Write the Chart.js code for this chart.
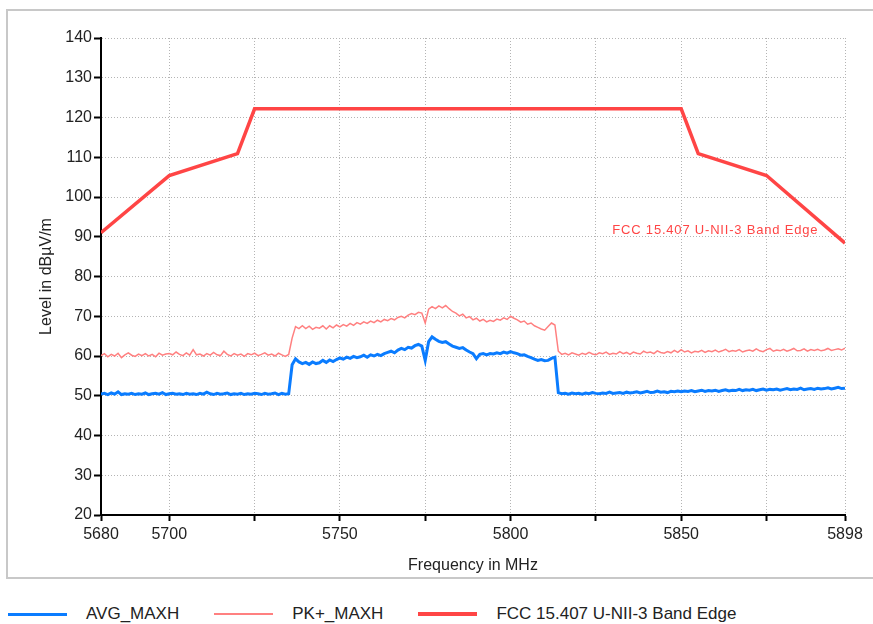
<!DOCTYPE html>
<html>
<head>
<meta charset="utf-8">
<script src="https://cdn.jsdelivr.net/npm/chart.js@4.4.1/dist/chart.umd.min.js"></script>
<style>
  body { margin: 0; width: 873px; height: 624px; overflow: hidden; background: #fff; font-family: "Liberation Sans", Arial, sans-serif; }
  #frame { position: absolute; left: 6px; top: 9px; width: 900px; height: 566px; border: 2px solid #c8c8c8; }
  #chart { position: absolute; left: 0; top: 0; }
  #legend { position: absolute; left: 8px; top: 604px; height: 20px; display: flex; align-items: center; font-size: 17px; color: #222; white-space: nowrap; }
  .item { display: flex; align-items: center; margin-right: 35px; }
  .swatch { width: 59px; margin-right: 19px; }
</style>
</head>
<body>
<div id="frame"></div>
<canvas id="chart" width="873" height="580"></canvas>
<div id="legend"></div>
<script>
// sweep: 5680 .. 5898 MHz, 1 MHz per sample
const startFreq = 5680;
const stopFreq = 5898;

const avgMaxh = [
  50.4, 50.6, 50.3, 50.7, 50.4, 51.0, 50.3, 50.5, 50.4, 50.6,
  50.3, 50.5, 50.4, 50.7, 50.3, 50.5, 50.6, 50.4, 50.8, 50.3,
  50.5, 50.6, 50.4, 50.5, 50.3, 50.6, 50.4, 50.5, 50.3, 50.6,
  50.4, 50.9, 50.5, 50.3, 50.6, 50.4, 50.5, 50.7, 50.3, 50.5,
  50.4, 50.6, 50.3, 50.5, 50.4, 50.6, 50.5, 50.3, 50.6, 50.4,
  50.5, 50.7, 50.3, 50.6, 50.4, 50.5,
  57.8, 59.3, 58.5, 58.1,
  58.4, 57.9, 58.5, 58.1, 58.3, 58.9, 58.4, 59.0, 58.6, 59.1,
  59.5, 59.2, 59.7, 59.4, 59.9, 59.6, 59.8, 60.2, 59.7, 60.3,
  60.0, 60.4, 60.1, 60.6, 60.9, 61.2, 60.8, 61.5, 61.9, 61.6,
  62.2, 62.0, 62.6, 62.9, 62.5, 58.9, 63.6, 64.8, 64.2, 63.7,
  63.4, 63.6, 63.0, 62.5, 62.2, 61.9, 62.1, 61.5, 61.0, 60.6,
  59.3, 60.4, 60.6, 60.3, 60.6, 60.5, 60.8, 60.6, 61.0, 60.7,
  61.1, 60.8, 60.6, 60.2, 60.3, 59.9, 59.6, 59.2, 58.9, 59.1,
  58.8, 58.9, 59.4, 59.7, 50.8, 50.5, 50.6, 50.4, 50.7, 50.5,
  50.6, 50.4, 50.7, 50.5, 50.8, 50.6, 50.5, 50.7, 50.6, 50.9,
  50.6, 50.7, 50.8, 50.6, 50.9, 50.7, 50.8, 51.0, 50.7, 50.9,
  51.1, 50.8, 50.9, 51.2, 50.9, 51.0, 50.8, 51.1, 51.0, 51.2,
  51.0, 51.2, 51.1, 51.3, 51.0, 51.2, 51.4, 51.1, 51.3, 51.2,
  51.4, 51.1, 51.3, 51.5, 51.2, 51.4, 51.3, 51.6, 51.3, 51.5,
  51.4, 51.6, 51.3, 51.5, 51.7, 51.4, 51.6, 51.5, 51.7, 51.4,
  51.6, 51.8, 51.5, 51.7, 51.6, 51.9, 51.5, 51.7, 51.8, 51.6,
  51.9, 51.7, 51.8, 52.0, 51.7, 51.9, 52.1, 51.8, 51.9
];

const pkMaxh = [
  60.1, 60.6, 59.8, 60.4, 60.0, 60.7, 59.6, 60.3, 60.8, 60.2,
  59.9, 60.5, 60.1, 60.6, 60.0, 60.4, 59.8, 60.7, 60.2, 60.5,
  60.6, 60.3, 61.0, 60.4, 60.1, 60.8, 60.2, 61.6, 60.3, 60.5,
  60.0, 60.6, 60.2, 60.9, 60.3, 60.1, 61.2, 60.4, 60.0, 60.6,
  60.2, 60.5, 59.9, 60.6, 60.3, 60.7, 60.1, 60.4, 60.8, 60.2,
  60.5, 60.0, 60.7, 60.3, 59.9, 60.4,
  64.5, 67.4, 66.9, 67.6,
  66.9, 67.5, 66.7, 67.2, 67.0, 67.6, 66.8, 67.6, 67.1, 67.8,
  67.3, 67.9, 67.5, 68.2, 67.7, 68.4, 68.0, 68.6, 68.2, 68.8,
  68.4, 69.0, 68.6, 69.2, 68.9, 69.4, 69.1, 69.7, 70.0, 69.6,
  70.3, 70.7, 70.4, 71.0, 70.8, 68.3, 71.8, 72.4, 71.9, 72.6,
  72.1, 72.7, 71.9, 71.2, 70.8, 70.1, 70.5, 69.6, 69.9, 69.1,
  69.5, 68.8, 69.2, 68.6, 69.0, 68.7, 69.3, 69.0, 69.6, 69.2,
  70.0, 69.5, 69.1, 68.5, 68.8, 68.0, 68.3, 67.6, 67.2, 66.8,
  66.5, 67.4, 68.3, 67.8, 61.2, 60.4, 60.7, 60.3, 60.8, 60.5,
  60.2, 60.7, 60.4, 60.9, 60.5, 60.3, 60.8, 60.6, 61.0, 60.4,
  60.7, 60.5, 61.1, 60.6, 60.9, 60.4, 61.0, 60.7, 60.5, 61.2,
  60.8, 61.0, 60.6, 61.3, 60.9, 60.7, 61.1, 60.8, 61.4, 60.9,
  61.6, 61.0, 61.3, 60.8, 61.2, 61.0, 61.4, 60.9, 61.3, 61.1,
  61.5, 61.0, 61.3, 61.7, 61.1, 61.4, 61.2, 61.6, 61.0, 61.3,
  61.5, 61.2, 61.8, 61.3, 61.1, 61.6, 61.9, 61.2, 61.5, 61.3,
  61.7, 61.2, 61.5, 61.9, 61.3, 61.4, 61.8, 61.2, 61.6, 61.4,
  61.7, 61.3, 61.5, 61.9, 61.4, 61.6, 61.8, 61.5, 62.0
];

// FCC 15.407 U-NII-3 band edge mask
const limitFreqs = [5680, 5700, 5720, 5725, 5850, 5855, 5875, 5898];
const limitLevels = [91.0, 105.4, 110.9, 122.2, 122.2, 110.9, 105.4, 88.4];
const limitName = 'FCC 15.407 U-NII-3 Band Edge';
const limitLabelAt = [5860, 91.6];

const xTickValues = [5680, 5700, 5725, 5750, 5775, 5800, 5825, 5850, 5875, 5898];
const xLabelValues = [5680, 5700, 5750, 5800, 5850, 5898];

const freqs = [];
for (let f = startFreq; f <= stopFreq; f++) freqs.push(f);

const colorAvg = '#0a7cff';
const colorPk = '#ff8080';
const colorLimit = '#ff4545';
const textColor = '#222';
const tickFont = { family: '"Liberation Sans", Arial, sans-serif', size: 16 };

const limitLabel = {
    id: 'limitLabel',
    afterDatasetsDraw(chart) {
        const ctx = chart.ctx;
        const x = chart.scales.x.getPixelForValue(limitLabelAt[0]);
        const y = chart.scales.y.getPixelForValue(limitLabelAt[1]);
        ctx.save();
        ctx.font = '13px "Liberation Sans", Arial, sans-serif';
        ctx.letterSpacing = '0.8px';
        ctx.fillStyle = colorLimit;
        ctx.textAlign = 'center';
        ctx.textBaseline = 'middle';
        ctx.fillText(limitName, x, y);
        ctx.restore();
    }
};

const data = {
    labels: freqs,
    datasets: [{
        label: 'AVG_MAXH',
        data: avgMaxh,
        borderColor: colorAvg,
        backgroundColor: colorAvg,
        borderWidth: 3
    }, {
        label: 'PK+_MAXH',
        data: pkMaxh,
        borderColor: colorPk,
        backgroundColor: colorPk,
        borderWidth: 1.5
    }, {
        label: limitName,
        data: limitFreqs.map((f, i) => ({ x: f, y: limitLevels[i] })),
        borderColor: colorLimit,
        backgroundColor: colorLimit,
        borderWidth: 3.5
    }]
};

const config = {
    type: 'line',
    data: data,
    options: {
        responsive: false,
        animation: false,
        elements: { point: { radius: 0 }, line: { tension: 0 } },
        layout: { padding: { left: 0, top: 38, right: 28, bottom: 0 } },
        plugins: { legend: { display: false }, tooltip: { enabled: false } },
        scales: {
            x: {
                type: 'linear',
                min: 5680,
                max: 5898,
                afterBuildTicks: (scale) => { scale.ticks = xTickValues.map(v => ({ value: v })); },
                afterFit: (scale) => { scale.height = 65; },
                ticks: {
                    autoSkip: false,
                    maxRotation: 0,
                    padding: 4,
                    color: textColor,
                    font: tickFont,
                    callback: (v) => xLabelValues.includes(v) ? String(v) : ''
                },
                grid: { color: '#b4b4b4', lineWidth: 1, tickColor: '#000', tickWidth: 2, tickLength: 6 },
                border: { color: '#000', width: 2, dash: [1, 2] },
                title: { display: true, text: 'Frequency in MHz', color: textColor, font: tickFont, padding: { top: 0, bottom: 5 } }
            },
            y: {
                min: 20,
                max: 140,
                afterFit: (scale) => { scale.width = 101; },
                ticks: {
                    stepSize: 5,
                    padding: 2,
                    color: textColor,
                    font: tickFont,
                    callback: (v) => v % 10 === 0 ? String(v) : ''
                },
                grid: { color: '#b4b4b4', lineWidth: 1, tickColor: '#000', tickWidth: 2, tickLength: 7 },
                border: { color: '#000', width: 2, dash: [1, 2] },
                title: { display: true, text: 'Level in dB\u00b5V/m', color: textColor, font: tickFont, padding: { top: 37, bottom: 0 } }
            }
        }
    },
    plugins: [limitLabel]
};

const myChart = new Chart(document.getElementById('chart'), config);

// legend below the frame
const legend = document.getElementById('legend');
data.datasets.forEach(ds => {
    const item = document.createElement('div');
    item.className = 'item';
    const sw = document.createElement('div');
    sw.className = 'swatch';
    sw.style.height = Math.max(2, Math.round(ds.borderWidth)) + 'px';
    sw.style.background = ds.borderColor;
    const txt = document.createElement('span');
    txt.textContent = ds.label;
    item.appendChild(sw);
    item.appendChild(txt);
    legend.appendChild(item);
});
</script>
</body>
</html>
